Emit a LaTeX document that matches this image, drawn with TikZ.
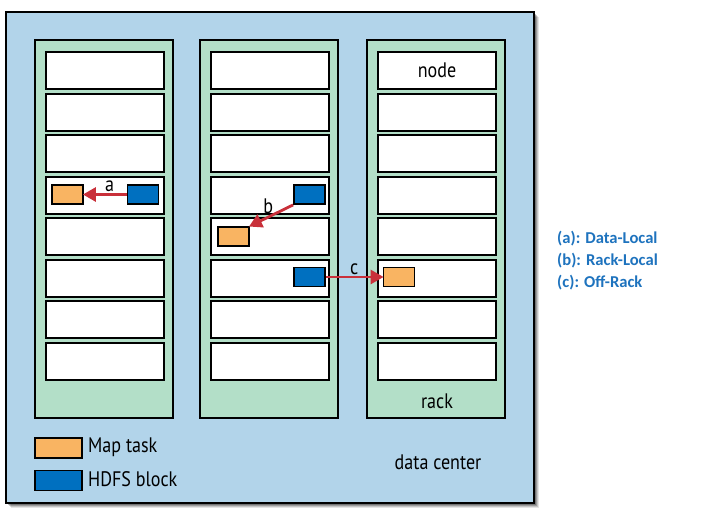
\documentclass[tikz,border=0pt]{standalone}
\usepackage{fontspec}
\setmainfont{PT Sans}[FakeStretch=0.86]
\newfontfamily\labfont{Carlito}
\usetikzlibrary{arrows.meta}
\definecolor{dcblue}{HTML}{B2D4EA}
\definecolor{rackgreen}{HTML}{B3DFC8}
\definecolor{maporange}{HTML}{F9B462}
\definecolor{hdfsblue}{HTML}{0070C0}
\definecolor{arrowred}{HTML}{C9303A}
\definecolor{labblue}{HTML}{1E73BE}
\tikzset{
  dc/.style={draw=black, fill=dcblue, line width=2pt, minimum width=528pt, minimum height=491pt, inner sep=0pt},
  rackbox/.style={draw=black, fill=rackgreen, line width=2pt, minimum width=138pt, minimum height=378pt, inner sep=0pt},
  nodebox/.style={draw=black, fill=white, line width=2pt, minimum width=118pt, minimum height=37pt, inner sep=0pt},
  maptask/.style={draw=black, fill=maporange, line width=1.8pt, minimum width=31pt, minimum height=19pt, inner sep=0pt},
  hdfs/.style={draw=black, fill=hdfsblue, line width=1.8pt, minimum width=31pt, minimum height=19pt, inner sep=0pt},
  legbox/.style={draw=black, line width=1.8pt, minimum width=47pt, minimum height=20pt, inner sep=0pt},
  txt/.style={font=\fontsize{21}{24}\selectfont, inner sep=0pt},
  loc/.style={draw=arrowred, line width=2.8pt, -{Triangle[length=13pt,width=14pt]}, shorten >=-1pt},
  lab/.style={font=\labfont\bfseries\fontsize{16.6}{20}\selectfont, text=labblue, inner sep=0pt, anchor=west}
}
\begin{document}
\begin{tikzpicture}[x=1pt,y=-1pt]
\useasboundingbox (0,0) rectangle (701,512);
\fill[white] (0,0) rectangle (701,512);
% shadow
\foreach \o/\op in {5/0.10,4/0.14,3/0.2,2/0.25} {
  \fill[black, opacity=\op] (6+\o,12+\o) rectangle (534+\o,503+\o);
}
\node[dc] (dc) at (270,257.5) {};
\foreach \r/\x in {1/35,2/200,3/367} {
  \node[rackbox] (rack\r) at (\x+69,229) {};
  \foreach \k in {1,...,8} {
    \node[nodebox] (r\r n\k) at (\x+70,70.5+\k*41.5-41.5) {};
  }
}
\node[txt] (nodetxt) at (r3n1) {node};
\node[txt] (racktxt) at (437,401) {rack};
\node[txt] (dctxt) at (438,462) {data center};
% blocks
\node[maptask] (m1) at (67.5,194.5) {};
\node[hdfs] (h1) at (143,194.5) {};
\node[hdfs] (h2) at (309.5,194.5) {};
\node[maptask] (m2) at (233.5,236.5) {};
\node[hdfs] (h3) at (309.5,277) {};
\node[maptask] (m3) at (399,277) {};
% arrows
\draw[loc] (h1.west) -- node[txt, above, yshift=1pt, pos=0.4] (la) {a} (m1.east);
\draw[loc] (h2.south west) -- node[txt, above right, pos=0.35, xshift=-16pt, yshift=-3pt] (lb) {b} (m2.north east);
\draw[loc] (h3.east) -- node[txt, above, yshift=1pt] (lc) {c} (m3.west);
% legend
\node[legbox, fill=maporange] (legm) at (58.5,448) {};
\node[txt, anchor=west] (legmt) at (88,447) {Map task};
\node[legbox, fill=hdfsblue] (legh) at (58.5,480.5) {};
\node[txt, anchor=west] (leght) at (88,479) {HDFS block};
% right labels
\node[lab] (la1) at (557,239) {(a): Data-Local};
\node[lab] (lb1) at (557,261) {(b): Rack-Local};
\node[lab] (lc1) at (557,283) {(c): Off-Rack};
\end{tikzpicture}
\end{document}
